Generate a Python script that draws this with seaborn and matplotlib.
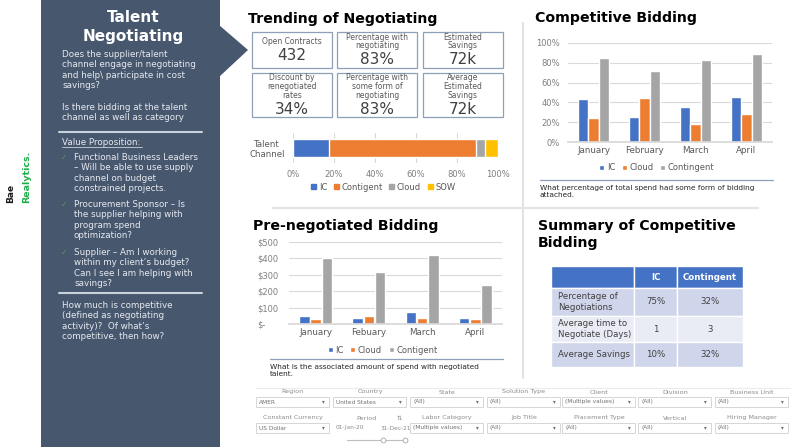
import numpy as np
import pandas as pd
import matplotlib.pyplot as plt
import matplotlib.patches as mpatches
from matplotlib.table import Table
import seaborn as sns

# === Data ===
kpi_labels = ["Open Contracts", "Percentage with\nnegotiating", "Estimated\nSavings",
              "Discount by\nrenegotiated\nrates", "Percentage with\nsome form of\nnegotiating",
              "Average\nEstimated\nSavings"]
kpi_values = ["432", "83%", "72k", "34%", "83%", "72k"]

channel_types = ["IC", "Contigent", "Cloud", "SOW"]
channel_share = [17.5, 72.0, 4.0, 6.5]

months = ["January", "February", "March", "April"]
bid_ic = [43, 25, 35, 45]
bid_cloud = [24, 44, 18, 28]
bid_contingent = [85, 72, 83, 89]

pre_months = ["January", "Febuary", "March", "April"]
pre_ic = [50, 38, 72, 38]
pre_cloud = [30, 50, 38, 30]
pre_contigent = [400, 320, 420, 235]

summary_header = ["", "IC", "Contingent"]
summary_rows = ["Percentage of\nNegotiations", "Average time to\nNegotiate (Days)", "Average Savings"]
summary_ic = ["75%", "1", "10%"]
summary_contingent = ["32%", "3", "32%"]

filter_row1 = ["Region", "Country", "State", "Solution Type", "Client", "Division", "Business Unit"]
filter_row1_vals = ["AMER", "United States", "(All)", "(All)", "(Multiple values)", "(All)", "(All)"]
filter_row2 = ["Constant Currency", "Period", "Labor Category", "Job Title", "Placement Type",
               "Vertical", "Hiring Manager"]
filter_row2_vals = ["US Dollar", None, "(Multiple values)", "(All)", "(All)", "(All)", "(All)"]

panel_p1 = "Does the supplier/talent\nchannel engage in negotiating\nand help\\ participate in cost\nsavings?"
panel_p2 = "Is there bidding at the talent\nchannel as well as category"
panel_bullets = ["Functional Business Leaders\n\u2013 Will be able to use supply\nchannel on budget\nconstrained projects.",
                 "Procurement Sponsor \u2013 Is\nthe supplier helping with\nprogram spend\noptimization?",
                 "Supplier \u2013 Am I working\nwithin my client\u2019s budget?\nCan I see I am helping with\nsavings?"]
panel_p4 = "How much is competitive\n(defined as negotiating\nactivity)?  Of what\u2019s\ncompetitive, then how?"

# === Style ===
BLUE, ORANGE, GRAY, GOLD = "#4472C4", "#ED7D31", "#A5A5A5", "#FFC000"
PANEL = "#47576E"
W, H = 799, 447

sns.set_theme(style="white")
plt.rcParams["font.family"] = ["DejaVu Sans"]

fig = plt.figure(figsize=(W / 100, H / 100), dpi=100)
bg = fig.add_axes([0, 0, 1, 1])
bg.set_xlim(0, W)
bg.set_ylim(H, 0)
bg.axis("off")


def px_axes(x0, y0, x1, y1):
    return fig.add_axes([x0 / W, 1 - y1 / H, (x1 - x0) / W, (y1 - y0) / H])


# === Left panel ===
bg.add_patch(mpatches.Rectangle((41, 0), 179, H, color=PANEL, lw=0))
bg.add_patch(mpatches.Polygon([(219, 25), (248, 50), (219, 77)], closed=True, color=PANEL, lw=0))
bg.text(133, 17, "Talent", color="white", fontsize=11, fontweight="bold", ha="center", va="center")
bg.text(133, 36, "Negotiating", color="white", fontsize=11, fontweight="bold", ha="center", va="center")

ptxt = dict(color="#E6EAF0", fontsize=6.3, va="top", ha="left", linespacing=1.21)
bg.text(62, 50, panel_p1, **ptxt)
bg.text(62, 103, panel_p2, **ptxt)
bg.plot([59, 202], [132, 132], color="#C9D1DD", lw=1.5)
bg.text(62, 138, "Value Proposition:", **ptxt)
bg.plot([62, 142], [146.5, 146.5], color="#E6EAF0", lw=0.5)
for by, b in zip([153, 200, 248], panel_bullets):
    bg.text(64, by + 4, "\u2713", color="#4E9A5E", fontsize=5.5, ha="center", va="center")
    bg.text(74, by, b, **ptxt)
bg.plot([59, 202], [293, 293], color="#C9D1DD", lw=1.5)
bg.text(62, 301, panel_p4, **ptxt)

# logo
bg.text(11, 203, "Bae", rotation=90, fontsize=6.5, fontweight="bold", color="#1A1A1A", ha="center", va="bottom")
bg.text(27, 203, "Realytics.", rotation=90, fontsize=6.8, fontweight="bold", color="#1FAF4B", ha="center", va="bottom")

# === Section separators ===
bg.plot([523, 523], [23, 378], color="#E3E3E3", lw=1.5)
bg.plot([273, 758], [208, 208], color="#E3E3E3", lw=1.5)

# === Trending of Negotiating ===
bg.text(248, 19, "Trending of Negotiating", fontsize=10.2, fontweight="bold", color="black", va="center")
boxes = [(252, 32, 332, 68), (337, 32, 417, 68), (423, 32, 503, 68),
         (252, 73, 332, 117), (337, 73, 417, 117), (423, 73, 503, 117)]
for (x0, y0, x1, y1), lab, val in zip(boxes, kpi_labels, kpi_values):
    bg.add_patch(mpatches.Rectangle((x0, y0), x1 - x0, y1 - y0, fill=False, ec="#8EA0B8", lw=0.9))
    lines = lab.split("\n")
    n = len(lines)
    step = 8.7
    top = (y0 + y1) / 2 - (n * step + 15) / 2 - 0.8
    cx = (x0 + x1) / 2
    for k, line in enumerate(lines):
        bg.text(cx, top + 4 + k * step, line, fontsize=5.5, color="#595959", ha="center", va="center")
    bg.text(cx, top + n * step + 9.5, val, fontsize=11, color="#404040", ha="center", va="center")

ax_s = px_axes(293, 133, 498, 163)
cum = np.cumsum(channel_share)
chan_colors = [BLUE, ORANGE, GRAY, GOLD]
for name, total, col in reversed(list(zip(channel_types, cum, chan_colors))):
    sns.barplot(x=[total], y=["Talent\nChannel"], color=col, orient="h", width=0.58,
                saturation=1, ax=ax_s)
ax_s.set_xlim(0, 100)
ax_s.set_xticks(range(0, 101, 20))
ax_s.set_xticklabels([f"{v}%" for v in range(0, 101, 20)])
ax_s.xaxis.grid(True, color="#D9D9D9", lw=0.8)
ax_s.set_axisbelow(True)
sns.despine(ax=ax_s, left=True, bottom=True)
ax_s.tick_params(axis="x", length=0, labelsize=6, labelcolor="#7F7F7F", pad=5)
ax_s.tick_params(axis="y", length=0, labelsize=6.2, labelcolor="#595959", pad=6)
ax_s.set_xlabel("")
ax_s.set_ylabel("")
for lab in ax_s.get_yticklabels():
    lab.set_multialignment("center")
handles = [mpatches.Patch(color=c, label=n) for n, c in zip(channel_types, chan_colors)]
ax_s.legend(handles=handles, loc="center", bbox_to_anchor=(0.44, -0.8), ncol=4, frameon=False,
            fontsize=6, handlelength=0.6, handleheight=0.6, handletextpad=0.3, columnspacing=0.8,
            labelcolor="#595959")


# === Grouped bar charts ===
def grouped(ax, cats, series, names, ymax, ystep, fmt, legend_x, legend_y):
    df = pd.DataFrame({"month": cats * len(series),
                       "value": sum(series, []),
                       "series": np.repeat(names, len(cats))})
    sns.barplot(data=df, x="month", y="value", hue="series", hue_order=names,
                palette=[BLUE, ORANGE, GRAY], width=0.63, gap=0.06, saturation=1, ax=ax)
    ax.set_ylim(0, ymax)
    ticks = list(range(0, ymax + 1, ystep))
    ax.set_yticks(ticks)
    ax.set_yticklabels([fmt(t) for t in ticks])
    ax.yaxis.grid(True, color="#D9D9D9", lw=0.8)
    ax.set_axisbelow(True)
    sns.despine(ax=ax, left=True)
    ax.spines["bottom"].set_color("#D9D9D9")
    ax.tick_params(axis="y", length=0, labelsize=6, labelcolor="#7F7F7F")
    ax.tick_params(axis="x", length=0, labelsize=6.3, labelcolor="#595959", pad=3)
    ax.set_xlabel("")
    ax.set_ylabel("")
    h, l = ax.get_legend_handles_labels()
    ax.legend(h, l, loc="center", bbox_to_anchor=(legend_x, legend_y), ncol=3, frameon=False,
              fontsize=6, handlelength=0.6, handleheight=0.6, handletextpad=0.3, columnspacing=0.8,
              labelcolor="#595959")


bg.text(535, 18, "Competitive Bidding", fontsize=10.2, fontweight="bold", color="black", va="center")
ax_c = px_axes(568, 43, 772, 142)
grouped(ax_c, months, [bid_ic, bid_cloud, bid_contingent], ["IC", "Cloud", "Contingent"],
        100, 20, lambda v: f"{v}%", 0.436, -0.26)
ax_c.tick_params(axis="y", pad=6)
bg.plot([540, 773], [180, 180], color="#8EA0B8", lw=0.9)
bg.text(540, 185, "What percentage of total spend had some form of bidding\nattached.",
        fontsize=5.3, color="#262626", va="top", linespacing=1.25)

bg.text(253, 226, "Pre-negotiated Bidding", fontsize=10.2, fontweight="bold", color="black", va="center")
ax_p = px_axes(289, 242, 502, 324)
grouped(ax_p, pre_months, [pre_ic, pre_cloud, pre_contigent], ["IC", "Cloud", "Contigent"],
        500, 100, lambda v: f"${v}" if v else "$-", 0.44, -0.32)
for lab in ax_p.get_yticklabels():
    lab.set_horizontalalignment("left")
ax_p.tick_params(axis="y", pad=23)
bg.plot([270, 503], [359, 359], color="#8EA0B8", lw=0.9)
bg.text(270, 364, "What is the associated amount of spend with negotiated\ntalent.",
        fontsize=5.3, color="#262626", va="top", linespacing=1.25)

# === Summary table ===
bg.text(538, 226, "Summary of Competitive", fontsize=10.2, fontweight="bold", color="black", va="center")
bg.text(538, 243, "Bidding", fontsize=10.2, fontweight="bold", color="black", va="center")
ax_t = px_axes(551, 266, 743, 367)
ax_t.axis("off")
tbl = Table(ax_t, bbox=[0, 0, 1, 1])
col_w = [83, 43, 66]
row_h = [22, 28, 26, 25]
row_colors = ["#CFD5EA", "#E9EBF5", "#CFD5EA"]
for j, txt in enumerate(summary_header):
    c = tbl.add_cell(0, j, col_w[j], row_h[0], text=txt, loc="center", facecolor=BLUE, edgecolor="white")
    c.get_text().set_color("white")
    c.get_text().set_fontweight("bold")
for i, (rlab, v1, v2) in enumerate(zip(summary_rows, summary_ic, summary_contingent)):
    for j, txt in enumerate([rlab, v1, v2]):
        c = tbl.add_cell(i + 1, j, col_w[j], row_h[i + 1], text=txt,
                         loc="left" if j == 0 else "center",
                         facecolor=row_colors[i], edgecolor="white")
        c.get_text().set_color("#404040")
        c.PAD = 0.08
tbl.auto_set_font_size(False)
tbl.set_fontsize(6.2)
ax_t.add_table(tbl)

# === Filter bar ===
bg.plot([256, 790], [388, 388], color="#EBEBEB", lw=0.8)
box_x = [256, 333, 410, 487, 562, 638, 715]
for row_y, labels, vals in [(392, filter_row1, filter_row1_vals), (418, filter_row2, filter_row2_vals)]:
    for x, lab, val in zip(box_x, labels, vals):
        if val is None:
            continue
        bg.text(x + 37, row_y, lab, fontsize=4.6, color="#8C8C8C", ha="center", va="center")
        bg.add_patch(mpatches.Rectangle((x, row_y + 5), 73, 10, fill=False, ec="#D0D0D0", lw=0.6))
        bg.text(x + 3, row_y + 10, val, fontsize=4.2, color="#707070", va="center")
        bg.text(x + 67, row_y + 10, "\u25be", fontsize=4, color="#707070", ha="center", va="center")

bg.text(367, 418, "Period", fontsize=4.6, color="#8C8C8C", ha="center", va="center")
bg.text(399, 418, "\u21c5", fontsize=4.6, color="#8C8C8C", ha="center", va="center")
bg.text(350, 428, "01-Jan-20", fontsize=4.2, color="#8C8C8C", ha="center", va="center")
bg.text(396, 428, "31-Dec-21", fontsize=4.2, color="#8C8C8C", ha="center", va="center")
bg.plot([347, 407], [440, 440], color="#BFBFBF", lw=0.8)
bg.plot([383, 405], [440, 440], "o", ms=3.5, mfc="white", mec="#A6A6A6", mew=0.6)

fig.savefig("out.png", dpi=100)
